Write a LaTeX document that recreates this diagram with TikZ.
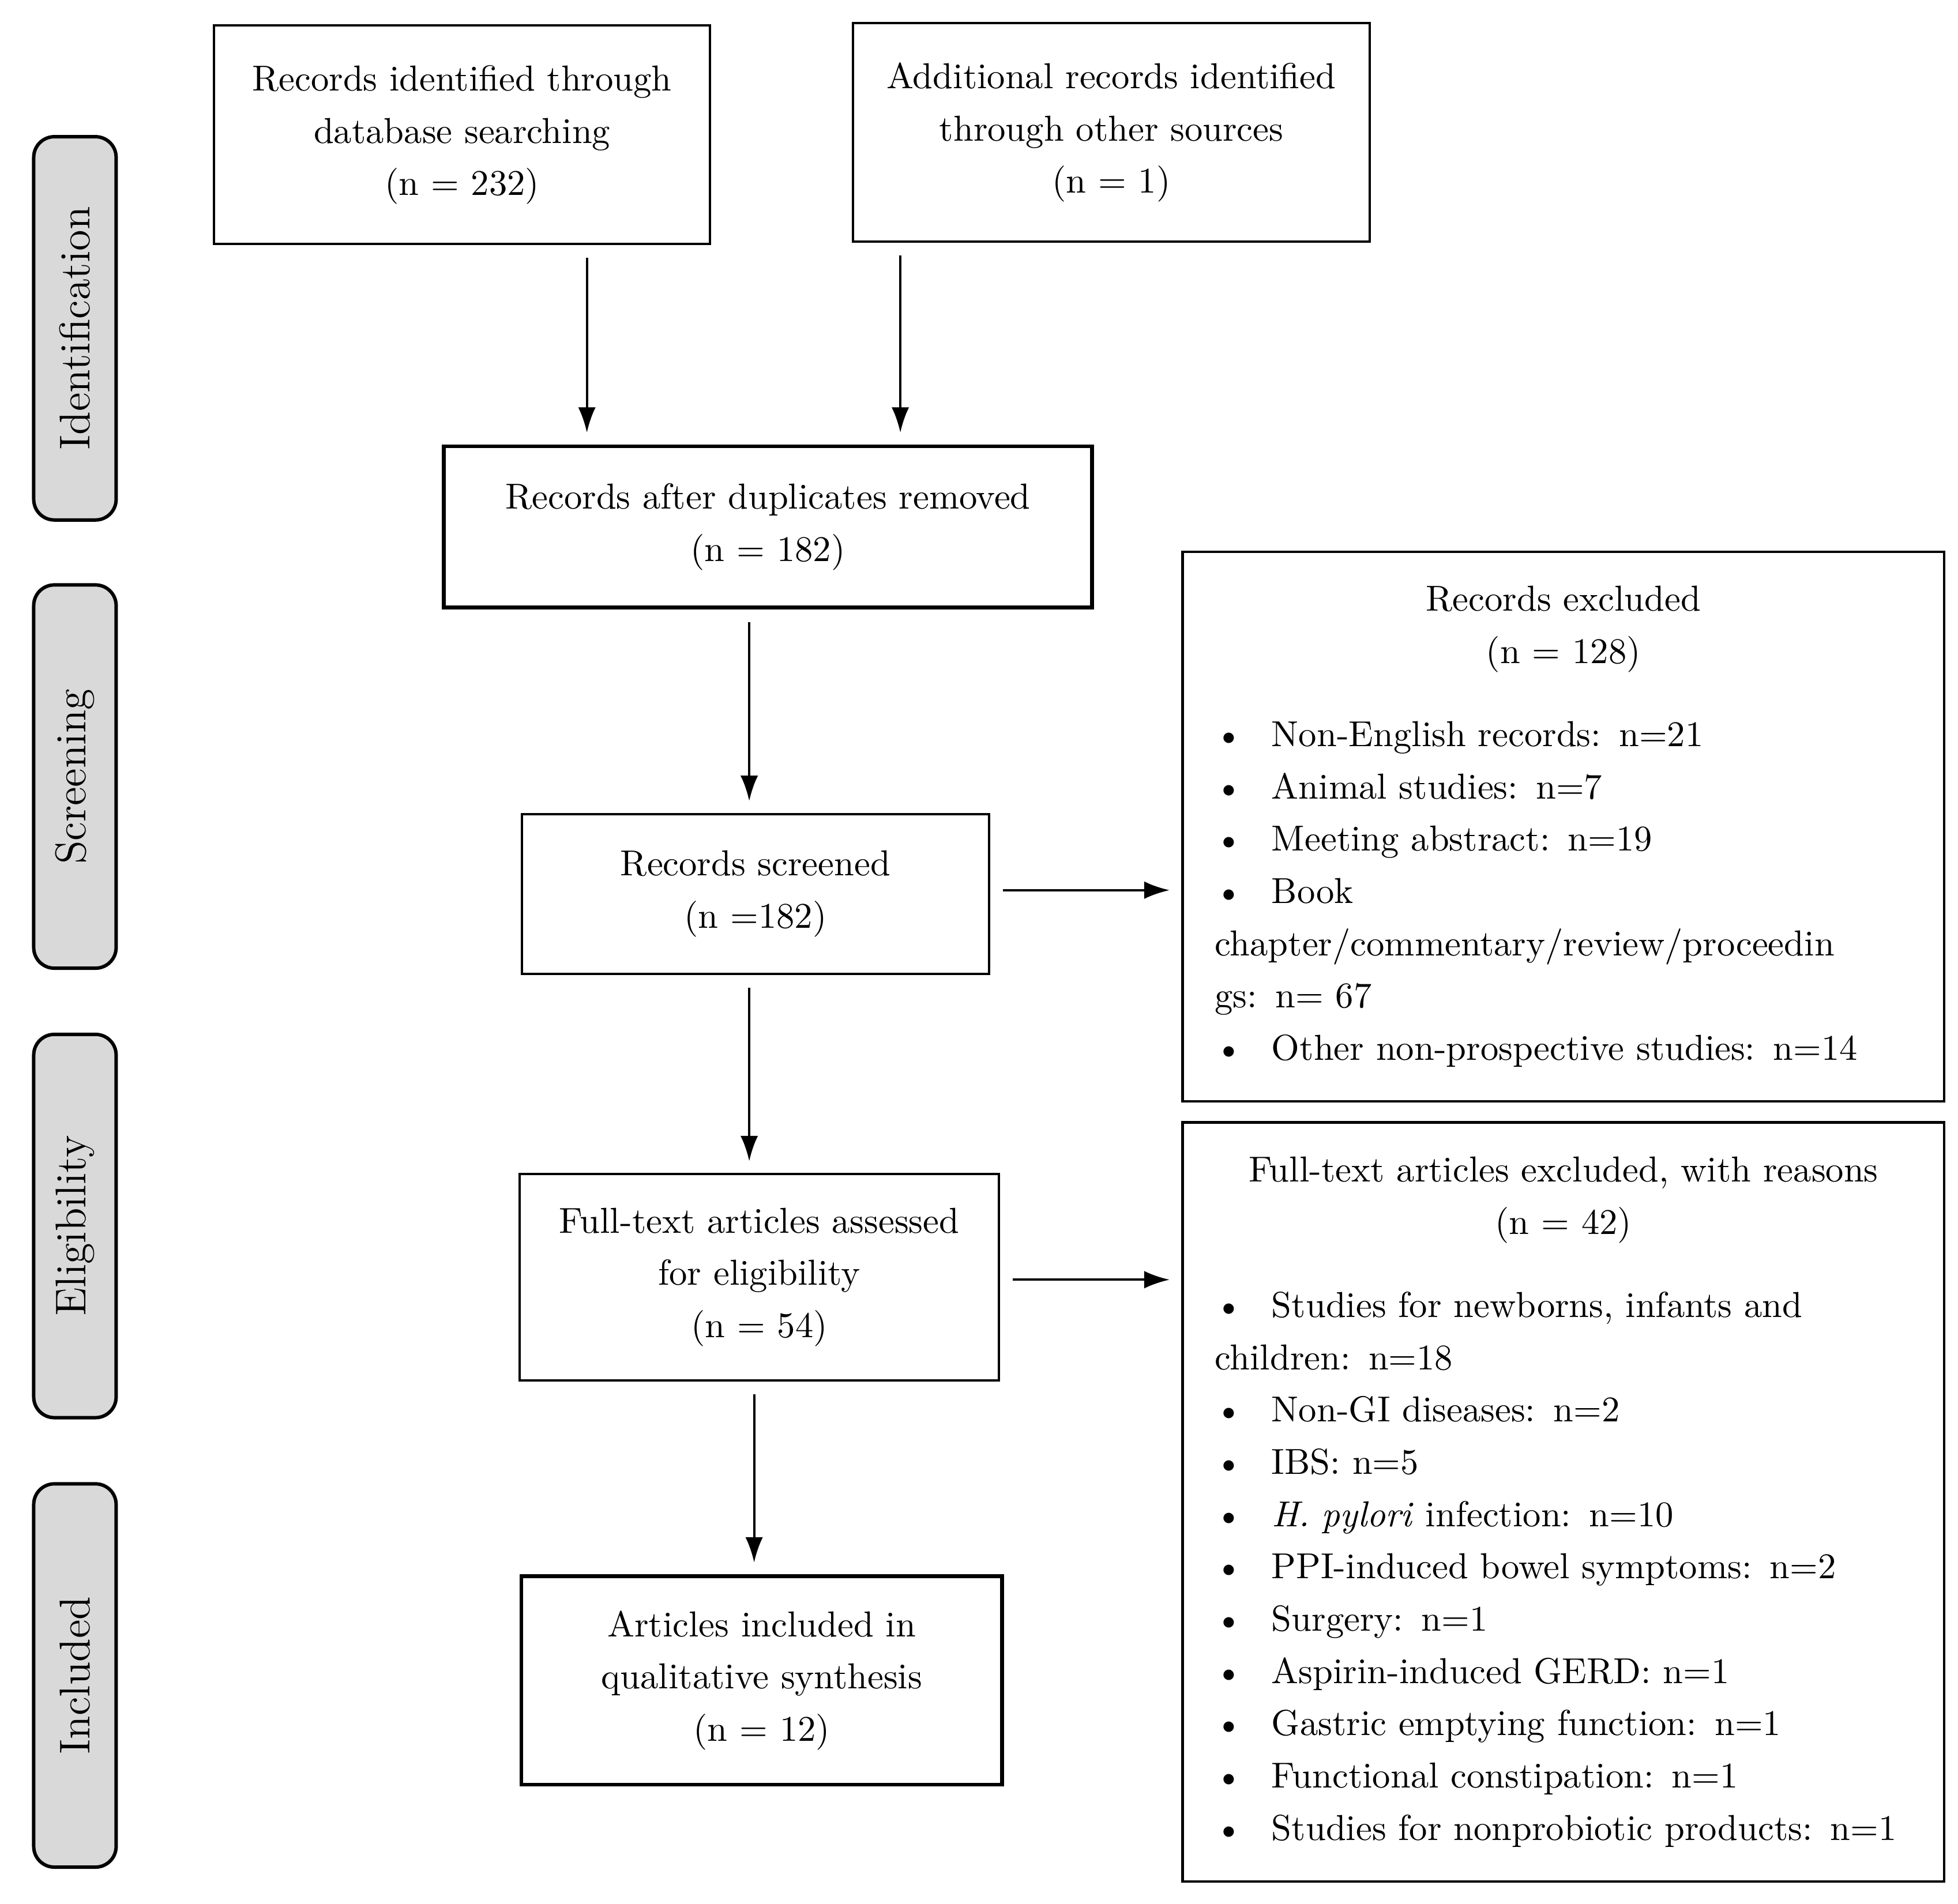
\documentclass[tikz,border=0pt]{standalone}
\usetikzlibrary{arrows.meta}
\newcommand{\itm}[1]{\par\noindent\hangindent=0.58cm\makebox[0.58cm][l]{\textbullet}#1}
\begin{document}
\begin{tikzpicture}[x=0.012755cm, y=-0.012755cm]
    % Define styles
    \tikzstyle{box}=[draw, line width=0.7pt, align=center, font=\fontsize{10.5}{15.2}\selectfont, inner sep=0pt]
    \tikzstyle{stage}=[draw, line width=1pt, fill=gray!30, rounded corners=6pt, minimum width=307*0.012755cm, minimum height=66*0.012755cm, rotate=90, font=\fontsize{12.5}{15}\selectfont]
    \tikzstyle{arr}=[line width=0.7pt, -{Latex[length=2.6mm, width=1.8mm]}, shorten <=0.13cm, shorten >=0.12cm]
    \useasboundingbox (0,0) rectangle (1568,1525);

    % Stage labels
    \node[stage] (sid) at (60,263) {Identification};
    \node[stage] (ssc) at (60,622) {Screening};
    \node[stage] (sel) at (60,982) {Eligibility};
    \node[stage] (sin) at (60,1342) {Included};

    % Main boxes
    \node[box, minimum width=397*0.012755cm, minimum height=175*0.012755cm] (db) at (370,108) {Records identified through\\database searching\\(n = 232)};
    \node[box, minimum width=414*0.012755cm, minimum height=175*0.012755cm] (other) at (890,106) {Additional records identified\\through other sources\\(n = 1)};
    \node[box, line width=1.1pt, minimum width=519*0.012755cm, minimum height=129*0.012755cm] (dup) at (615,422) {Records after duplicates removed\\(n = 182)};
    \node[box, minimum width=374*0.012755cm, minimum height=128*0.012755cm] (scr) at (605,716) {Records screened\\(n =182)};
    \node[box, minimum width=384*0.012755cm, minimum height=165*0.012755cm] (full) at (608,1023) {Full-text articles assessed\\for eligibility\\(n = 54)};
    \node[box, line width=1.1pt, minimum width=385*0.012755cm, minimum height=167*0.012755cm] (incl) at (610,1346) {Articles included in\\qualitative synthesis\\(n = 12)};

    % Exclusion boxes
    \node[box, align=left, text width=7.12cm, inner xsep=0.33cm, minimum height=440*0.012755cm] (exc1) at (1252,662) {%
        \centering Records excluded\\(n = 128)\par\vspace{9pt}\raggedright
        \itm{Non-English records: n=21}
        \itm{Animal studies: n=7}
        \itm{Meeting abstract: n=19}
        \itm{Book\\chapter/commentary/review/proceedin\\gs: n= 67}
        \itm{Other non-prospective studies: n=14}};
    \node[box, align=left, text width=7.12cm, inner xsep=0.33cm, minimum height=608*0.012755cm] (exc2) at (1252,1203) {%
        \centering Full-text articles excluded, with reasons\\(n = 42)\par\vspace{9pt}\raggedright
        \itm{Studies for newborns, infants and\\children: n=18}
        \itm{Non-GI diseases: n=2}
        \itm{IBS: n=5}
        \itm{\textit{H. pylori} infection: n=10}
        \itm{PPI-induced bowel symptoms: n=2}
        \itm{Surgery: n=1}
        \itm{Aspirin-induced GERD: n=1}
        \itm{Gastric emptying function: n=1}
        \itm{Functional constipation: n=1}
        \itm{Studies for nonprobiotic products: n=1}};

    % Arrows
    \coordinate (a1) at (470,0);
    \coordinate (a2) at (721,0);
    \coordinate (a3) at (600,0);
    \draw[arr] (db.south -| a1) -- (dup.north -| a1);
    \draw[arr] (other.south -| a2) -- (dup.north -| a2);
    \draw[arr] (dup.south -| a3) -- (scr.north -| a3);
    \draw[arr] (scr.south -| a3) -- (full.north -| a3);
    \draw[arr] ([xshift=0.05cm]full.south -| a3) -- ([xshift=0.05cm]incl.north -| a3);
    \draw[arr] (scr.east |- 0,713) -- (exc1.west |- 0,713);
    \draw[arr] (full.east |- 0,1025) -- (exc2.west |- 0,1025);
\end{tikzpicture}
\end{document}
